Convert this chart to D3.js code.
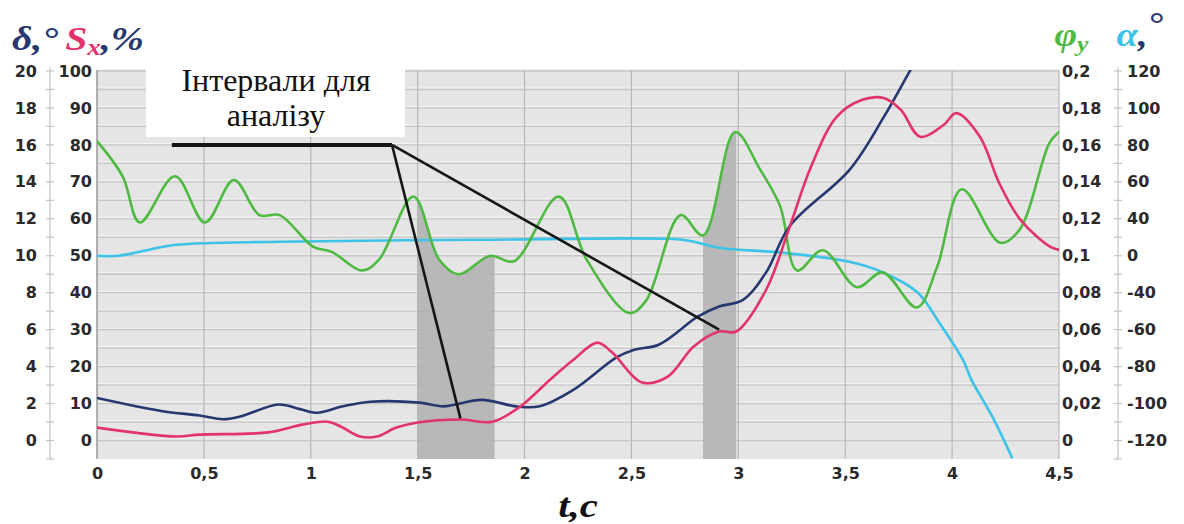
<!DOCTYPE html>
<html><head><meta charset="utf-8">
<script src="https://cdn.jsdelivr.net/npm/d3@7"></script>
<style>body{margin:0;background:#fff;} svg{display:block;}</style>
</head><body>
<svg id="chart" width="1184" height="524"></svg>
<script>
// ---- tick labels ----
const timeTicks  = [0,0.5,1,1.5,2,2.5,3,3.5,4,4.5];
const deltaTicks = [0,2,4,6,8,10,12,14,16,18,20];
const slipTicks  = [0,10,20,30,40,50,60,70,80,90,100];
const phiTicks   = [0,0.02,0.04,0.06,0.08,0.1,0.12,0.14,0.16,0.18,0.2];
const alphaTicks = [-120,-96,-72,-48,-24,0,24,48,72,96,120];
const alphaTickLabels = ["-120","-100","-80","-60","-40","0","40","60","80","100","120"];

// ---- series: delta (deg), left outer axis ----
const deltaT = [0,0.3,0.48,0.59,0.67,0.85,0.95,1.03,1.15,1.28,1.51,1.62,1.8,1.96,2.07,2.23,2.43,2.51,2.63,2.81,2.91,3.02,3.13,3.24,3.52,3.68,3.8,3.87];
const deltaV = [2.3,1.6,1.35,1.15,1.3,1.95,1.7,1.5,1.85,2.1,2.05,1.85,2.2,1.85,1.85,2.75,4.5,4.9,5.2,6.7,7.25,7.6,9.1,11.6,14.65,17.5,19.95,21.4];
// ---- series: Sx (%), left inner axis ----
const slipT = [0,0.37,0.48,0.8,0.96,1.08,1.14,1.23,1.31,1.4,1.5,1.7,1.85,1.98,2.12,2.23,2.34,2.41,2.55,2.67,2.79,2.91,2.99,3.13,3.24,3.34,3.46,3.58,3.68,3.76,3.85,3.96,4.02,4.13,4.22,4.32,4.46,4.5];
const slipV = [3.5,1.1,1.6,2.2,4.3,5.1,3.8,1.1,1.1,3.5,4.9,5.7,5.1,9.2,16.5,21.9,26.5,23.8,15.7,17.3,25.4,29.5,29.5,40.8,57.8,74.1,87.6,92.2,92.7,89.5,82.2,85.4,88.6,82.2,69.7,59.7,52.4,51.6];
// ---- series: phi_y, right inner axis ----
const phiT = [0,0.12,0.2,0.365,0.505,0.64,0.76,0.855,1.01,1.1,1.24,1.32,1.48,1.6,1.69,1.84,1.95,2.16,2.29,2.49,2.57,2.73,2.835,2.985,3.1,3.195,3.275,3.395,3.555,3.675,3.835,3.93,4.045,4.225,4.315,4.455,4.5];
const phiV = [0.162,0.143,0.118,0.143,0.118,0.141,0.122,0.122,0.105,0.102,0.092,0.098,0.132,0.098,0.09,0.1,0.097,0.132,0.098,0.069,0.076,0.122,0.111,0.167,0.147,0.127,0.092,0.103,0.083,0.091,0.072,0.094,0.136,0.107,0.114,0.161,0.167];
// ---- series: alpha (deg), right outer axis ----
const alphaT = [0,0.1,0.2,0.37,0.86,1.79,2.67,2.77,2.91,3.21,3.52,3.68,3.84,3.94,4.05,4.09,4.19,4.28];
const alphaV = [0,0,2.6,7.1,9.1,10.4,11,9.7,5.2,1.9,-3.9,-11,-24,-43.5,-67.5,-80.4,-105,-131];

// ---- analysis intervals (t) and annotation ----
const intervalStart = [1.5, 2.835];
const intervalEnd   = [1.86, 2.99];
const noteLines = ["Інтервали для", "аналізу"];
const pointerBar = [0.35, 1.38];     // t range of the thick bar, at Sx = 80
const pointerLevel = 80;
const pointerTargetT = [1.7, 2.91];
const pointerTargetS = [6, 30];

const C = {navy:"#26386f", pink:"#e3336c", green:"#4fba41", cyan:"#3cc3e7"};

const svg = d3.select("#chart");
const X0 = 97, X1 = 1059, YB = 459, YT = 71;
const x  = d3.scaleLinear().domain([0,4.5]).range([X0,X1]);
const yS = d3.scaleLinear().domain([-5,100]).range([YB,YT]);
const yD = d3.scaleLinear().domain([-1,20]).range([YB,YT]);
const yP = d3.scaleLinear().domain([-0.01,0.2]).range([YB,YT]);
const yA = d3.scaleLinear().domain([-132,120]).range([YB,YT]);

const comma = d => String(+d.toFixed(3)).replace(".", ",");
const zip = (a,b) => a.map((v,i)=>[v,b[i]]);

// plot background
svg.append("rect").attr("x",X0).attr("y",YT-1).attr("width",X1-X0).attr("height",YB-YT+1).attr("fill","#e5e5e5");
const defs = svg.append("defs");
defs.append("clipPath").attr("id","plotclip").append("rect")
  .attr("x",X0).attr("y",YT-1).attr("width",X1-X0).attr("height",YB-YT+1);

// horizontal grid every 5 Sx units
const hGrid = d3.range(0,101,5);
svg.append("g").selectAll("line.hl").data(hGrid).join("line")
  .attr("x1",X0).attr("x2",X1).attr("y1",d=>yS(d)-1.5).attr("y2",d=>yS(d)-1.5)
  .attr("stroke","#f4f4f4").attr("stroke-width",1);
svg.append("g").selectAll("line").data(hGrid).join("line")
  .attr("x1",X0).attr("x2",X1).attr("y1",d=>yS(d)).attr("y2",d=>yS(d))
  .attr("stroke","#c6c6c6").attr("stroke-width",1.3);
// vertical grid
svg.append("g").selectAll("line").data(timeTicks.slice(1)).join("line")
  .attr("x1",d=>x(d)).attr("x2",d=>x(d)).attr("y1",YT-1).attr("y2",YB)
  .attr("stroke","#b7b7b7").attr("stroke-width",1.2);
svg.append("line").attr("x1",X0).attr("x2",X0).attr("y1",YT-1).attr("y2",YB).attr("stroke","#8a8a8a").attr("stroke-width",1.3);

// shaded intervals under phi curve
const curve = d3.curveCatmullRom.alpha(0.5);
const phiPts = zip(phiT, phiV);
intervalStart.forEach((a,i)=>{
  const id = "iv"+i;
  defs.append("clipPath").attr("id",id).append("rect")
    .attr("x",x(a)).attr("y",YT).attr("width",x(intervalEnd[i])-x(a)).attr("height",YB-YT);
  svg.append("path").attr("clip-path",`url(#${id})`)
    .attr("d", d3.area().x(d=>x(d[0])).y0(YB).y1(d=>yP(d[1])).curve(curve)(phiPts))
    .attr("fill","#b2b2b2").attr("opacity",0.9);
});

// series lines
const lines = svg.append("g").attr("clip-path","url(#plotclip)").attr("fill","none")
  .attr("stroke-width",2.6).attr("stroke-linejoin","round").attr("stroke-linecap","round");
lines.append("path").attr("stroke",C.cyan).attr("d", d3.line().x(d=>x(d[0])).y(d=>yA(d[1])).curve(curve)(zip(alphaT,alphaV)));
lines.append("path").attr("stroke",C.green).attr("d", d3.line().x(d=>x(d[0])).y(d=>yP(d[1])).curve(curve)(phiPts));
lines.append("path").attr("stroke",C.navy).attr("d", d3.line().x(d=>x(d[0])).y(d=>yD(d[1])).curve(curve)(zip(deltaT,deltaV)));
lines.append("path").attr("stroke",C.pink).attr("d", d3.line().x(d=>x(d[0])).y(d=>yS(d[1])).curve(curve)(zip(slipT,slipV)));

// axes
const lblFont = g => g.selectAll("text").attr("font-family","'DejaVu Sans', sans-serif")
  .attr("font-weight","bold").attr("font-size",16).attr("fill","#2a2a2a");
function styleAxis(g){ g.select(".domain").remove(); lblFont(g); }

// delta axis: line + ticks at x=50, labels right-aligned at 37
const DX = 50;
svg.append("line").attr("x1",DX).attr("x2",DX).attr("y1",yD(20)-4).attr("y2",YB).attr("stroke","#c2c2c2").attr("stroke-width",1.2);
svg.append("g").selectAll("line").data(d3.range(-1,21,1)).join("line")
  .attr("x1",DX-4).attr("x2",DX+4).attr("y1",d=>yD(d)).attr("y2",d=>yD(d)).attr("stroke","#c2c2c2").attr("stroke-width",1.2);
svg.append("g").attr("transform",`translate(${DX},0)`)
  .call(d3.axisLeft(yD).tickValues(deltaTicks).tickSize(0).tickPadding(13).tickFormat(d=>d))
  .call(styleAxis);
// Sx axis
svg.append("g").attr("transform",`translate(${X0},0)`)
  .call(d3.axisLeft(yS).tickValues(slipTicks).tickSize(0).tickPadding(5).tickFormat(d=>d))
  .call(styleAxis);
// phi axis
svg.append("g").attr("transform",`translate(${X1},0)`)
  .call(d3.axisRight(yP).tickValues(phiTicks).tickSize(0).tickPadding(3).tickFormat(comma))
  .call(styleAxis);
// alpha axis
const AX = 1118;
svg.append("line").attr("x1",AX).attr("x2",AX).attr("y1",yA(120)-4).attr("y2",YB).attr("stroke","#c2c2c2").attr("stroke-width",1.2);
svg.append("g").selectAll("line").data(d3.range(-132,121,12)).join("line")
  .attr("x1",AX-4).attr("x2",AX+4).attr("y1",d=>yA(d)).attr("y2",d=>yA(d)).attr("stroke","#c2c2c2").attr("stroke-width",1.2);
svg.append("g").attr("transform",`translate(${AX},0)`)
  .call(d3.axisRight(yA).tickValues(alphaTicks).tickSize(0).tickPadding(9)
    .tickFormat((d,i)=>alphaTickLabels[i]))
  .call(styleAxis);
// time axis
svg.append("g").attr("transform",`translate(0,${YB})`)
  .call(d3.axisBottom(x).tickValues(timeTicks).tickSize(0).tickFormat(comma))
  .call(styleAxis)
  .call(g=>g.selectAll("text").attr("y",14).attr("dy","0.36em"));

// axis titles (serif bold italic)
const serif = "'Liberation Serif','Times New Roman',serif";
const left = svg.append("text").attr("transform","translate(12,50) scale(1.17,1)")
  .attr("font-family",serif).attr("font-style","italic").attr("font-weight","bold").attr("font-size",34);
left.append("tspan").attr("fill",C.navy).text("δ,°");
left.append("tspan").attr("fill",C.pink).attr("dx",6).text("S");
left.append("tspan").attr("fill",C.pink).attr("font-size",23).attr("dy",5).text("x");
left.append("tspan").attr("fill",C.navy).attr("dy",-5).text(",%");

const right = svg.append("text").attr("transform","translate(1163,46) scale(1.17,1)")
  .attr("text-anchor","end")
  .attr("font-family",serif).attr("font-style","italic").attr("font-weight","bold").attr("font-size",33);
right.append("tspan").attr("fill",C.green).text("φ");
right.append("tspan").attr("fill",C.green).attr("font-size",22).attr("dy",5).text("y");
right.append("tspan").attr("fill",C.cyan).attr("dy",-5).attr("dx",24).text("α");
right.append("tspan").attr("fill",C.navy).text(",");
right.append("tspan").attr("fill",C.navy).attr("dy",-11).text("°");

svg.append("text").attr("transform",`translate(${x(2.25)},517) scale(1.2,1)`)
  .attr("text-anchor","middle").attr("font-family",serif).attr("font-style","italic")
  .attr("font-weight","bold").attr("font-size",34).attr("fill","#111").text("t,c");

// annotation: pointer lines
const ann = svg.append("g").attr("stroke","#161616").attr("fill","none");
ann.append("line").attr("x1",x(pointerBar[0])).attr("x2",x(pointerBar[1]))
  .attr("y1",yS(pointerLevel)).attr("y2",yS(pointerLevel)).attr("stroke-width",4);
pointerTargetT.forEach((t,i)=>{
  ann.append("line").attr("x1",x(pointerBar[1])).attr("y1",yS(pointerLevel))
    .attr("x2",x(t)).attr("y2",yS(pointerTargetS[i])).attr("stroke-width",2.6);
});
// annotation box
svg.append("rect").attr("x",146).attr("y",66).attr("width",259).attr("height",71).attr("fill","#fff");
svg.append("text").attr("x",276).attr("y",91).attr("text-anchor","middle")
  .attr("font-family",serif).attr("font-size",32).attr("fill","#111")
  .selectAll("tspan").data(noteLines).join("tspan")
  .attr("x",276).attr("dy",(d,i)=>i?35:0).text(d=>d);
</script>
</body></html>
